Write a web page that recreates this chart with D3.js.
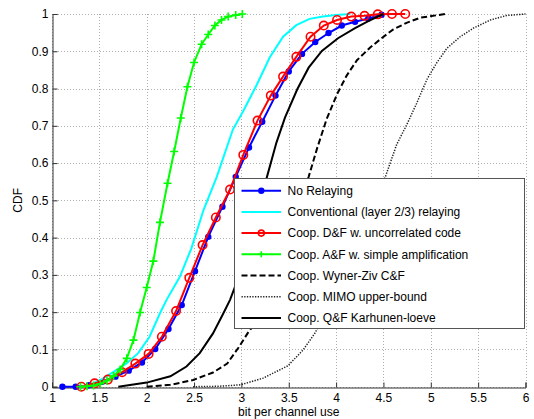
<!DOCTYPE html>
<html>
<head>
<meta charset="utf-8">
<script src="https://cdn.jsdelivr.net/npm/d3@7"></script>
<style>
  body { margin: 0; background: #fff; }
  text { font-family: "Liberation Sans", Arial, sans-serif; }
</style>
</head>
<body>
<svg id="chart" width="534" height="419"></svg>
<script>
// tick labels
var xTicks = [1, 1.5, 2, 2.5, 3, 3.5, 4, 4.5, 5, 5.5, 6];
var yTicks = [0, 0.1, 0.2, 0.3, 0.4, 0.5, 0.6, 0.7, 0.8, 0.9, 1];

// No Relaying (markers)
var noRelayX = [1.11, 1.25, 1.39, 1.53, 1.67, 1.81, 1.95, 2.09, 2.23, 2.37, 2.51, 2.65, 2.80, 2.94, 3.08, 3.22, 3.36, 3.50, 3.64, 3.78, 3.92, 4.06, 4.20, 4.34, 4.48];
var noRelayY = [0, 0, 0.004, 0.013, 0.027, 0.043, 0.065, 0.101, 0.155, 0.219, 0.310, 0.402, 0.483, 0.563, 0.642, 0.711, 0.781, 0.846, 0.893, 0.925, 0.949, 0.969, 0.979, 0.988, 0.998];

// Conventional (layer 2/3) relaying
var convX = [1.30, 1.40, 1.51, 1.65, 1.79, 1.91, 2.03, 2.14, 2.21, 2.35, 2.47, 2.60, 2.74, 2.91, 3.02, 3.16, 3.30, 3.44, 3.58, 3.72, 3.86, 4.00, 4.15];
var convY = [0, 0.005, 0.018, 0.040, 0.063, 0.090, 0.134, 0.197, 0.233, 0.295, 0.370, 0.474, 0.563, 0.690, 0.740, 0.809, 0.884, 0.939, 0.970, 0.987, 0.993, 0.997, 1.0];

// Coop. D&F w. uncorrelated code (markers)
var dfX = [1.31, 1.45, 1.59, 1.74, 1.88, 2.02, 2.16, 2.31, 2.45, 2.59, 2.73, 2.88, 3.02, 3.17, 3.31, 3.44, 3.58, 3.73, 3.87, 4.01, 4.16, 4.30, 4.44, 4.59, 4.73];
var dfY = [0, 0.009, 0.019, 0.039, 0.062, 0.088, 0.134, 0.203, 0.292, 0.380, 0.454, 0.529, 0.622, 0.714, 0.781, 0.832, 0.885, 0.939, 0.969, 0.984, 0.993, 0.995, 0.999, 1.0, 1.0];

// Coop. A&F w. simple amplification (markers)
var afX = [1.30, 1.37, 1.44, 1.51, 1.58, 1.65, 1.72, 1.79, 1.86, 1.93, 2.00, 2.07, 2.14, 2.22, 2.29, 2.36, 2.43, 2.50, 2.58, 2.65, 2.72, 2.79, 2.86, 2.94, 3.01];
var afY = [0, 0.001, 0.003, 0.008, 0.016, 0.029, 0.046, 0.076, 0.125, 0.199, 0.266, 0.337, 0.441, 0.546, 0.631, 0.721, 0.805, 0.870, 0.919, 0.945, 0.969, 0.984, 0.993, 0.997, 1.0];

// Coop. Wyner-Ziv C&F
var wzX = [2.00, 2.25, 2.49, 2.70, 2.85, 2.97, 3.07, 3.13, 3.30, 3.50, 3.71, 3.80, 3.90, 4.01, 4.11, 4.22, 4.36, 4.48, 4.60, 4.75, 4.89, 5.15];
var wzY = [0, 0.005, 0.018, 0.038, 0.062, 0.105, 0.145, 0.165, 0.260, 0.400, 0.563, 0.640, 0.718, 0.785, 0.834, 0.876, 0.910, 0.935, 0.958, 0.977, 0.990, 1.0];

// Coop. MIMO upper-bound
var mimoX = [2.49, 2.75, 2.99, 3.23, 3.49, 3.65, 3.78, 4.00, 4.25, 4.52, 4.64, 4.75, 4.85, 4.96, 5.06, 5.17, 5.31, 5.45, 5.63, 5.80, 6.00];
var mimoY = [0, 0.001, 0.005, 0.023, 0.056, 0.098, 0.145, 0.260, 0.410, 0.563, 0.650, 0.705, 0.760, 0.825, 0.868, 0.908, 0.939, 0.962, 0.984, 0.996, 1.0];

// Coop. Q&F Karhunen-loeve
var qfX = [1.70, 2.00, 2.25, 2.42, 2.56, 2.70, 2.81, 2.88, 2.95, 3.05, 3.15, 3.27, 3.37, 3.46, 3.59, 3.71, 3.85, 4.02, 4.20, 4.35, 4.50];
var qfY = [0, 0.011, 0.028, 0.054, 0.090, 0.143, 0.197, 0.233, 0.280, 0.360, 0.455, 0.563, 0.655, 0.722, 0.798, 0.856, 0.901, 0.935, 0.962, 0.982, 1.0];

var series = [
  { name: "No Relaying", x: noRelayX, y: noRelayY, color: "#0000ff", width: 2, dash: null, marker: "dot" },
  { name: "Conventional (layer 2/3) relaying", x: convX, y: convY, color: "#00ffff", width: 2, dash: null, marker: null },
  { name: "Coop. D&F w. uncorrelated code", x: dfX, y: dfY, color: "#ff0000", width: 2, dash: null, marker: "circle" },
  { name: "Coop. A&F w. simple amplification", x: afX, y: afY, color: "#00ff00", width: 2, dash: null, marker: "plus" },
  { name: "Coop. Wyner-Ziv C&F", x: wzX, y: wzY, color: "#000000", width: 2, dash: "6,3", marker: null },
  { name: "Coop. MIMO upper-bound", x: mimoX, y: mimoY, color: "#222", width: 1.5, dash: "1.3,1.4", marker: null },
  { name: "Coop. Q&F Karhunen-loeve", x: qfX, y: qfY, color: "#000000", width: 2, dash: null, marker: null }
];

var svg = d3.select("#chart");
var pLeft = 52, pRight = 525.5, pTop = 14, pBottom = 386.7;

var x = d3.scaleLinear().domain([1, 6]).range([pLeft, pRight]);
var y = d3.scaleLinear().domain([0, 1]).range([pBottom, pTop]);

// grid
var grid = svg.append("g").attr("stroke", "#b0b0b0").attr("stroke-width", 1).attr("stroke-dasharray", "1,2");
grid.selectAll(".gx").data(xTicks).enter().append("line")
  .attr("x1", d => Math.round(x(d)) + 0.5).attr("x2", d => Math.round(x(d)) + 0.5)
  .attr("y1", pTop).attr("y2", pBottom);
grid.selectAll(".gy").data(yTicks).enter().append("line")
  .attr("y1", d => Math.round(y(d)) + 0.5).attr("y2", d => Math.round(y(d)) + 0.5)
  .attr("x1", pLeft).attr("x2", pRight);

// axes
var xAxis = d3.axisBottom(x).tickValues(xTicks).tickSize(-5).tickPadding(6).tickFormat(d3.format("~g"));
var yAxis = d3.axisLeft(y).tickValues(yTicks).tickSize(-5).tickPadding(4).tickFormat(d3.format("~g"));

var gx = svg.append("g").attr("transform", "translate(0," + (Math.round(pBottom) + 0.5) + ")").call(xAxis);
var gy = svg.append("g").attr("transform", "translate(" + (pLeft + 0.5) + ",0)").call(yAxis);
[gx, gy].forEach(g => {
  g.select(".domain").attr("stroke", "#333");
  g.selectAll(".tick line").attr("stroke", "#333");
  g.selectAll("text").attr("font-size", 12).attr("fill", "#000").attr("font-family", "Liberation Sans, Arial, sans-serif");
});

svg.append("text").attr("x", x(3.5)).attr("y", 416).attr("text-anchor", "middle")
  .attr("font-size", 12).text("bit per channel use");
svg.append("text").attr("transform", "translate(22," + y(0.5) + ") rotate(-90)")
  .attr("text-anchor", "middle").attr("font-size", 12).text("CDF");

// curves
var plot = svg.append("g");
var line = d3.line().x(d => x(d[0])).y(d => y(d[1]));

function drawMarker(g, m, color, px, py, small) {
  if (m === "dot") {
    g.append("circle").attr("cx", px).attr("cy", py).attr("r", 3.2).attr("fill", color);
  } else if (m === "circle") {
    g.append("circle").attr("cx", px).attr("cy", py).attr("r", small ? 3 : 4.2)
      .attr("fill", "none").attr("stroke", color).attr("stroke-width", 1.6);
  } else if (m === "plus") {
    var h = small ? 3 : 4;
    g.append("path").attr("d", "M" + (px - h) + "," + py + "H" + (px + h) + "M" + px + "," + (py - h) + "V" + (py + h))
      .attr("stroke", color).attr("stroke-width", 1.6);
  }
}

series.forEach(s => {
  var pts = s.x.map((v, i) => [v, s.y[i]]);
  plot.append("path").datum(pts)
    .attr("fill", "none")
    .attr("stroke", s.color)
    .attr("stroke-width", s.width)
    .attr("stroke-dasharray", s.dash)
    .attr("d", line);
  if (s.marker) {
    var mg = plot.append("g");
    pts.forEach(p => drawMarker(mg, s.marker, s.color, x(p[0]), y(p[1]), false));
  }
});

// legend
var lg = svg.append("g");
lg.append("rect").attr("x", 234.5).attr("y", 178.5).attr("width", 290).attr("height", 150)
  .attr("fill", "#fff").attr("stroke", "#555").attr("stroke-width", 1);
series.forEach((s, i) => {
  var ly = 190.7 + i * 21.2;
  lg.append("line").attr("x1", 241.5).attr("x2", 281).attr("y1", ly).attr("y2", ly)
    .attr("stroke", s.color).attr("stroke-width", s.width).attr("stroke-dasharray", s.dash);
  if (s.marker) drawMarker(lg, s.marker, s.color, 261.3, ly, true);
  lg.append("text").attr("x", 287.5).attr("y", ly + 4.3).attr("font-size", 12).text(s.name);
});
</script>
</body>
</html>
